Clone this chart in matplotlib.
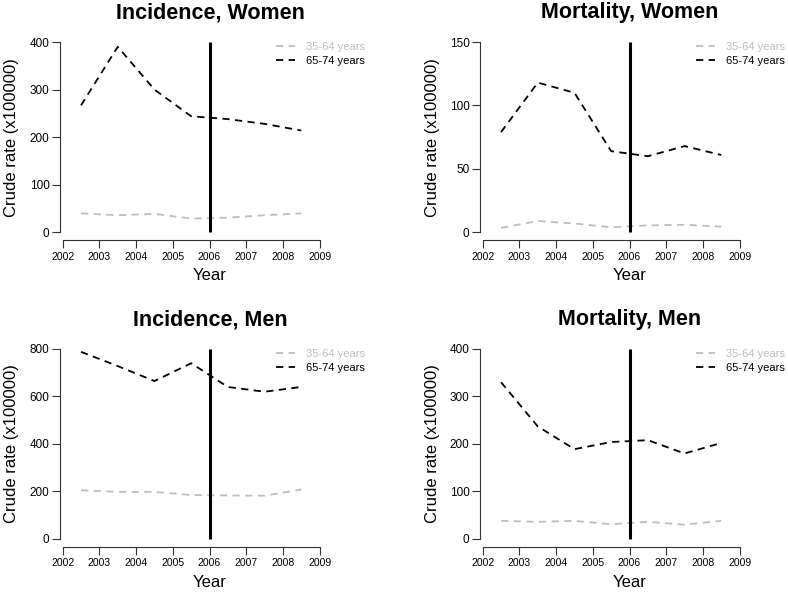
import numpy as np
import matplotlib
matplotlib.use("Agg")
import matplotlib.pyplot as plt

plt.rcParams['font.family'] = ['Liberation Sans', 'DejaVu Sans']

# data (mid-year points)
years = [2002.5, 2003.5, 2004.5, 2005.5, 2006.5, 2007.5, 2008.5]
xticks = [2002, 2003, 2004, 2005, 2006, 2007, 2008, 2009]
age_labels = ["35-64 years", "65-74 years"]

inc_women_young = [40, 36, 39, 29, 31, 36, 40]
inc_women_old = [267, 390, 300, 244, 238, 228, 214]
mort_women_young = [3.5, 9, 7, 4, 5.5, 6, 4.5]
mort_women_old = [79, 118, 110, 64, 60, 68, 61]
inc_men_young = [205, 198, 198, 185, 183, 182, 208]
inc_men_old = [788, 728, 665, 740, 640, 620, 640]
mort_men_young = [38, 36, 38, 31, 36, 30, 38]
mort_men_old = [330, 237, 189, 204, 208, 180, 202]

titles = ["Incidence, Women", "Mortality, Women", "Incidence, Men", "Mortality, Men"]
ymaxes = [400, 150, 800, 400]
yticks = [[0, 100, 200, 300, 400], [0, 50, 100, 150],
          [0, 200, 400, 600, 800], [0, 100, 200, 300, 400]]
series = [(inc_women_young, inc_women_old), (mort_women_young, mort_women_old),
          (inc_men_young, inc_men_old), (mort_men_young, mort_men_old)]

W, H = 788, 592
fig = plt.figure(figsize=(W / 100, H / 100), dpi=100)

GREY = "#BEBEBE"
# panel boxes in pixels: left, right, top, bottom
boxes = [(60, 360, 34.4, 240), (480, 780, 34.4, 240),
         (60, 360, 341.4, 546.5), (480, 780, 341.4, 546.5)]
px_per_year = 36.7

for i, (l, r, t, b) in enumerate(boxes):
    ax = fig.add_axes([l / W, 1 - b / H, (r - l) / W, (b - t) / H])
    ymax = ymaxes[i]
    young, old = series[i]
    ax.plot(years, young, color=GREY, lw=1.3, dashes=(4, 3), label=age_labels[0])
    ax.plot(years, old, color="black", lw=1.3, dashes=(4, 3), label=age_labels[1])
    ax.plot([2006, 2006], [0, ymax], color="black", lw=2.2, solid_capstyle="butt")

    x0 = 2002 - 2.7 / px_per_year
    ax.set_xlim(x0, x0 + (r - l) / px_per_year)
    ax.set_ylim(-0.04 * ymax, 1.04 * ymax)
    ax.set_xticks(xticks)
    ax.set_yticks(yticks[i])
    for s in ["top", "right"]:
        ax.spines[s].set_visible(False)
    ax.spines["left"].set_bounds(0, ymax)
    ax.spines["bottom"].set_bounds(2002, 2009)
    for s in ["left", "bottom"]:
        ax.spines[s].set_color("#333333")
        ax.spines[s].set_linewidth(0.8)
    ax.tick_params(axis="both", direction="out", length=5.5, width=0.8,
                   color="#333333")
    ax.tick_params(axis="x", pad=3, labelsize=7.5)
    ax.tick_params(axis="y", pad=2, labelsize=8.5)

    leg = ax.legend(loc="upper left", bbox_to_anchor=(208 / (r - l), 1.0),
                    frameon=False, fontsize=8, handlelength=1.7,
                    handletextpad=1.0, labelspacing=0.35, borderaxespad=0.3)
    for txt, c in zip(leg.get_texts(), [GREY, "black"]):
        txt.set_color(c)

    cx = (l + r) / 2
    fig.text(cx / W, 1 - (t - 21.5) / H, titles[i], ha="center", va="center",
             fontsize=15.5, fontweight="bold")
    fig.text(cx / W, 1 - (b + 36) / H, "Year", ha="center", va="center", fontsize=12)
    fig.text((l - 48) / W, 1 - ((t + b) / 2) / H, "Crude rate (x100000)",
             ha="center", va="center", rotation=90, fontsize=12)

fig.savefig("out.png", dpi=100)
